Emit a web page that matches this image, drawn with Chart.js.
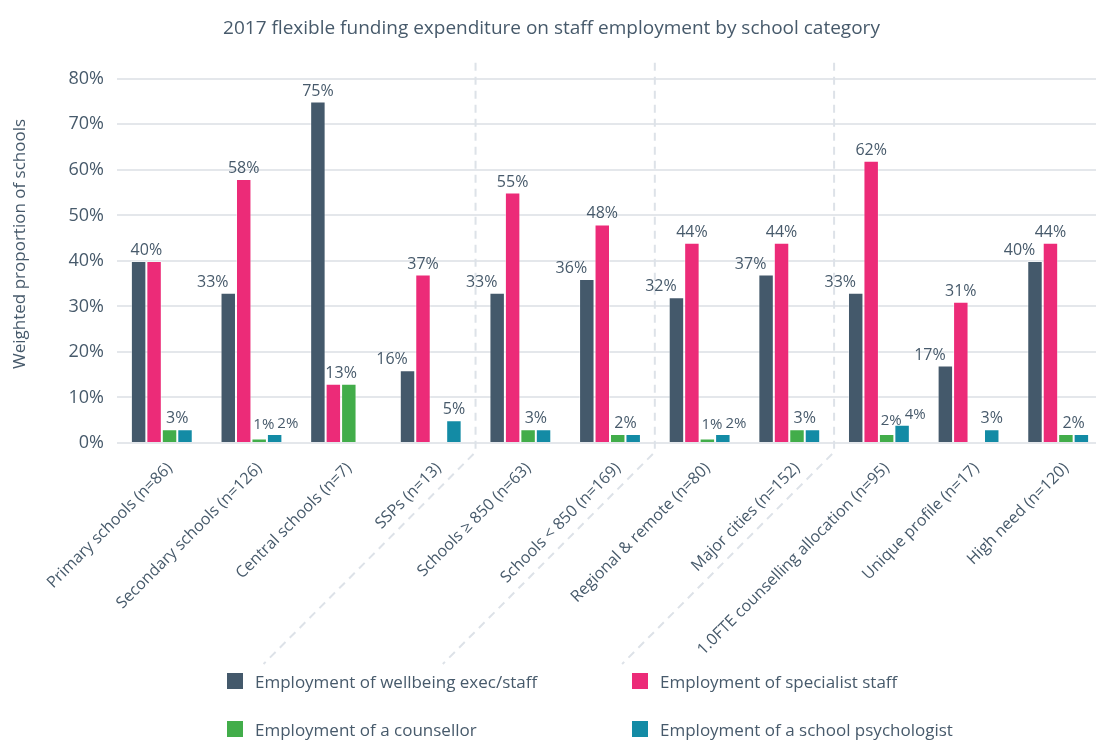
<!DOCTYPE html>
<html>
<head>
<meta charset="utf-8">
<title>Flexible funding expenditure</title>
<script src="https://cdn.jsdelivr.net/npm/chart.js@4.4.1/dist/chart.umd.min.js"></script>
<style>
    body { margin: 0; background: #fff; overflow: hidden; }
    #wrap { position: relative; width: 1103px; height: 740px; }
    #legenda {
        position: absolute; left: 227px; top: 665px;
        display: grid; grid-template-columns: 405px 405px; row-gap: 16px;
        font-family: 'Open Sans', sans-serif; font-size: 17px; color: #475a6b;
    }
    .item { display: flex; align-items: center; height: 32px; white-space: nowrap; }
    .caixa { width: 16px; height: 16px; margin-right: 12px; }
</style>
</head>
<body>
<div id="wrap">
    <canvas id="grafico" width="1103" height="740"></canvas>
    <div id="legenda"></div>
</div>
<script>
// Categorias de escola (eixo x)
const categorias = [
    'Primary schools (n=86)', 'Secondary schools (n=126)', 'Central schools (n=7)',
    'SSPs (n=13)', 'Schools \u2265 850 (n=63)', 'Schools < 850 (n=169)',
    'Regional & remote (n=80)', 'Major cities (n=152)',
    '1.0FTE counselling allocation (n=95)', 'Unique profile (n=17)', 'High need (n=120)'
];

// Percentual ponderado de escolas por tipo de despesa
const bemEstar    = [40, 33, 75, 16, 33, 36, 32, 37, 33, 17, 40];
const especialista = [40, 58, 13, 37, 55, 48, 44, 44, 62, 31, 44];
const conselheiro = [3, 1, 13, 0, 3, 2, 1, 3, 2, 0, 2];
const psicologo   = [3, 2, 0, 5, 3, 2, 2, 3, 4, 3, 2];

const nomesSeries = [
    'Employment of wellbeing exec/staff', 'Employment of specialist staff',
    'Employment of a counsellor', 'Employment of a school psychologist'
];
const cores = ['#44596b', '#ec2b78', '#42ad4a', '#138ba5'];

// Ticks do eixo y (em %)
const ticksY = [0, 10, 20, 30, 40, 50, 60, 70, 80];

// Índices onde começa um novo grupo de categorias (linha tracejada antes deles)
const quebrasGrupo = [4, 6, 8];

const tituloY = 'Weighted proportion of schools';
const corTexto = '#475a6b';
const series = [bemEstar, especialista, conselheiro, psicologo];

Chart.defaults.font.family = "'Open Sans', sans-serif";
Chart.defaults.color = corTexto;

// Linhas tracejadas separando os grupos, descendo em diagonal junto aos rótulos
const separadores = {
    id: 'separadores',
    beforeDatasetsDraw(chart) {
        const { ctx, chartArea, scales: { x } } = chart;
        ctx.save();
        ctx.strokeStyle = '#dde2e8';
        ctx.lineWidth = 2;
        ctx.setLineDash([8, 6]);
        ctx.lineJoin = 'round';
        quebrasGrupo.forEach(i => {
            const px = (x.getPixelForValue(i - 1) + x.getPixelForValue(i)) / 2;
            const base = chartArea.bottom + 9;
            ctx.beginPath();
            ctx.moveTo(px, chartArea.top - 16);
            ctx.lineTo(px, base);
            ctx.lineTo(px - 212, base + 212);
            ctx.stroke();
        });

        // título do eixo y, um pouco acima do centro da área do gráfico
        ctx.setLineDash([]);
        ctx.fillStyle = corTexto;
        ctx.font = "17px 'Open Sans', sans-serif";
        ctx.textAlign = 'center';
        ctx.textBaseline = 'middle';
        ctx.translate(20, (chartArea.top + chartArea.bottom) / 2 - 17);
        ctx.rotate(-Math.PI / 2);
        ctx.fillText(tituloY, 0, 0);
        ctx.restore();
    }
};

// Rótulos de valor acima das barras (valores iguais vizinhos ganham um só rótulo)
const rotulos = {
    id: 'rotulos',
    afterDatasetsDraw(chart) {
        const ctx = chart.ctx;
        const metas = series.map((_, d) => chart.getDatasetMeta(d).data);
        ctx.save();
        ctx.fillStyle = corTexto;
        ctx.textAlign = 'center';
        ctx.textBaseline = 'alphabetic';

        const escrever = (valor, x, topo, pequeno) => {
            ctx.font = (pequeno ? '15px' : '16px') + " 'Open Sans', sans-serif";
            ctx.fillText(valor + '%', x, topo - 6);
        };

        categorias.forEach((_, i) => {
            const b = metas.map(m => m[i]);
            const v = series.map(s => s[i]);
            const w = b[0].width;

            // exec/staff e especialista
            if (v[0] === v[1]) {
                escrever(v[0], (b[0].x + b[1].x) / 2, Math.min(b[0].y, b[1].y));
            } else {
                escrever(v[0], v[0] < v[1] ? b[0].x - w : b[0].x, b[0].y);
                if (v[1] === v[2]) {
                    escrever(v[1], (b[1].x + b[2].x) / 2, b[1].y);
                } else {
                    escrever(v[1], b[1].x, b[1].y);
                }
            }

            // conselheiro e psicólogo
            if (v[1] === v[2]) return;
            if (v[2] > 0 && v[2] === v[3]) {
                escrever(v[2], (b[2].x + b[3].x) / 2, b[2].y);
            } else if (v[2] > 0 && v[3] > 0) {
                escrever(v[2], b[2].x + w * 0.3, b[2].y - 3, true);
                escrever(v[3], b[3].x + w * 0.85, b[3].y, true);
            } else {
                if (v[2] > 0) escrever(v[2], b[2].x, b[2].y);
                if (v[3] > 0) escrever(v[3], b[3].x, b[3].y);
            }
        });
        ctx.restore();
    }
};

const ctx = document.getElementById('grafico').getContext('2d');
new Chart(ctx, {
    type: 'bar',
    data: {
        labels: categorias,
        datasets: series.map((dados, d) => ({
            label: nomesSeries[d],
            data: dados,
            backgroundColor: cores[d],
            borderColor: 'rgba(255,255,255,0.45)',
            borderWidth: 1,
            categoryPercentage: 0.69,
            barPercentage: 1
        }))
    },
    options: {
        responsive: false,
        animation: false,
        devicePixelRatio: 1,
        layout: { padding: 0 },
        plugins: {
            legend: { display: false },
            tooltip: { enabled: false },
            title: {
                display: true,
                text: '2017 flexible funding expenditure on staff employment by school category',
                font: { size: 19, weight: 'normal' },
                color: corTexto,
                padding: { top: 17, bottom: 39 }
            }
        },
        scales: {
            x: {
                grid: { display: false },
                border: { display: false },
                ticks: { minRotation: 45, maxRotation: 45, autoSkip: false, font: { size: 16 }, color: corTexto, padding: 8, labelOffset: 8 },
                afterFit: s => { s.height = 297; }
            },
            y: {
                min: ticksY[0],
                max: ticksY[ticksY.length - 1],
                afterBuildTicks: s => { s.ticks = ticksY.map(v => ({ value: v })); },
                ticks: { callback: v => v + '%', font: { size: 18 }, color: corTexto, padding: 13 },
                grid: { color: '#e4e7eb', lineWidth: 2, drawTicks: false },
                border: { display: false },
                afterFit: s => { s.width = 117; }
            }
        }
    },
    plugins: [separadores, rotulos]
});

// Legenda em duas colunas
const legenda = document.getElementById('legenda');
nomesSeries.forEach((nome, d) => {
    legenda.innerHTML += `<div class="item"><span class="caixa" style="background:${cores[d]}"></span>${nome}</div>`;
});
</script>
</body>
</html>
